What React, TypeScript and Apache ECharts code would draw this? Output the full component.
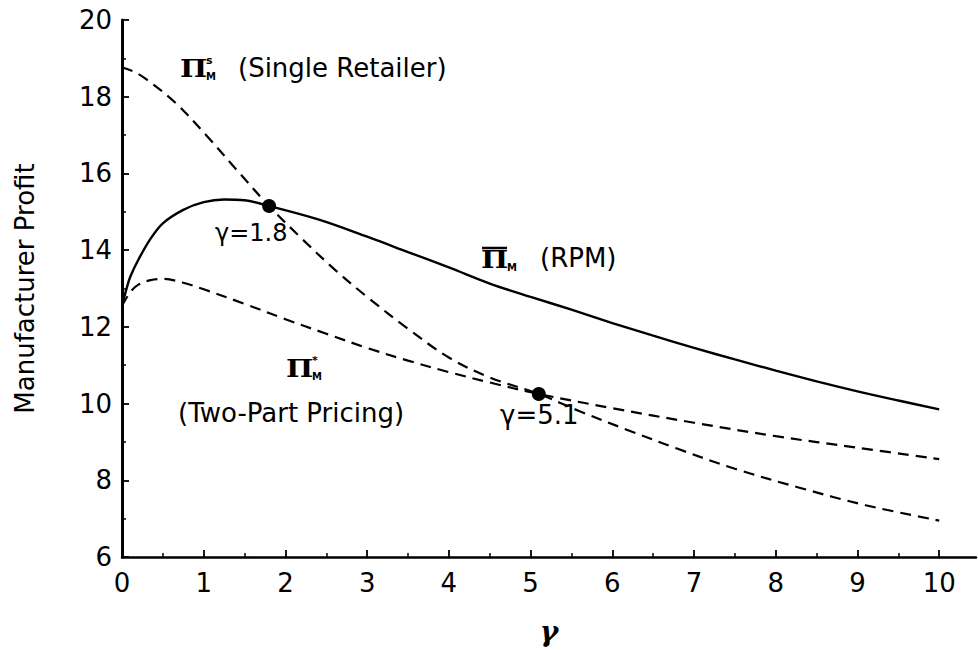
import React, { useEffect, useRef } from "react";
import * as echarts from "echarts";

// Single retailer (dashed, starts high)
const gammaSingle = [0, 0.15, 0.3, 0.65, 1.05, 1.4, 1.8, 2.2, 2.6, 3.0, 3.5, 4.0, 4.5, 5.1, 5.6, 6.2, 6.8, 7.5, 8.3, 9.1, 10];
const profitSingle = [18.77, 18.65, 18.45, 17.85, 16.95, 16.1, 15.15, 14.3, 13.5, 12.78, 11.95, 11.2, 10.68, 10.25, 9.8, 9.3, 8.82, 8.3, 7.8, 7.35, 6.95];

// RPM (solid)
const gammaRPM = [0, 0.05, 0.1, 0.2, 0.35, 0.5, 0.75, 1, 1.25, 1.5, 1.8, 2.4, 3, 3.5, 4, 4.5, 5, 5.5, 6, 6.5, 7, 7.5, 8, 8.5, 9, 9.5, 10];
const profitRPM = [12.55, 12.95, 13.3, 13.75, 14.3, 14.7, 15.05, 15.25, 15.32, 15.3, 15.15, 14.8, 14.35, 13.95, 13.55, 13.13, 12.78, 12.45, 12.1, 11.77, 11.45, 11.15, 10.86, 10.58, 10.32, 10.08, 9.85];

// Two-part pricing (dashed, lower)
const gammaTwoPart = [0, 0.1, 0.2, 0.35, 0.5, 0.75, 1, 1.5, 2, 2.5, 3, 3.5, 4, 4.5, 5.1, 6, 7, 8, 9, 10];
const profitTwoPart = [12.55, 12.9, 13.1, 13.22, 13.25, 13.15, 12.98, 12.6, 12.2, 11.82, 11.45, 11.12, 10.82, 10.55, 10.25, 9.88, 9.5, 9.15, 8.85, 8.55];

// Crossing points
const crossGamma = [1.8, 5.1];
const crossProfit = [15.15, 10.25];

// Axis ticks
const xTickValues = [0, 1, 2, 3, 4, 5, 6, 7, 8, 9, 10];
const xMinorTickValues = [0.5, 1.5, 2.5, 3.5, 4.5, 5.5, 6.5, 7.5, 8.5, 9.5];
const yMin = 6;
const yMax = 20;
const yStep = 2;
const xMin = 0;
const xMax = 10.45;

const pairs = (xs: number[], ys: number[]) => xs.map((x, i) => [x, ys[i]]);

const SANS = '"DejaVu Sans", sans-serif';
const SERIF = '"DejaVu Serif", serif';

function piLabel(x: number, y: number, sup: string | null, overline: boolean) {
  const els: any[] = [
    {
      type: "text",
      x,
      y,
      scaleX: 1.2,
      style: { text: "Π", font: `bold 24px ${SERIF}`, fill: "#000", align: "left", verticalAlign: "middle" },
    },
    {
      type: "text",
      x: x + 26,
      y: y + 8,
      style: { text: "M", font: `bold 10px ${SANS}`, fill: "#000", align: "left", verticalAlign: "middle" },
    },
  ];
  if (sup) {
    els.push({
      type: "text",
      x: x + 26,
      y: y - 8,
      style: { text: sup, font: `bold 11px ${SANS}`, fill: "#000", align: "left", verticalAlign: "middle" },
    });
  }
  if (overline) {
    els.push({
      type: "line",
      shape: { x1: x + 1, y1: y - 11, x2: x + 26, y2: y - 11 },
      style: { stroke: "#000", lineWidth: 2.5 },
    });
  }
  return els;
}

function txt(x: number, y: number, text: string, size = 26) {
  return {
    type: "text",
    x,
    y,
    style: { text, font: `${size}px ${SANS}`, fill: "#000", align: "left", verticalAlign: "middle" },
  };
}

export default function App() {
  const ref = useRef<HTMLDivElement>(null);
  useEffect(() => {
    if (!ref.current) return;
    const chart = echarts.init(ref.current, undefined, { renderer: "svg" });
    const dash = [11, 7];
    chart.setOption({
      animation: false,
      backgroundColor: "#fff",
      grid: { left: 122, right: 2, top: 20, bottom: 89, containLabel: false },
      xAxis: [
        {
          type: "value",
          min: xMin,
          max: xMax,
          name: "γ",
          nameLocation: "middle",
          nameGap: 60,
          nameTextStyle: { fontFamily: SERIF, fontStyle: "italic", fontWeight: "bold", fontSize: 28, color: "#000" },
          axisLine: { show: true, lineStyle: { color: "#000", width: 2.5 } },
          axisTick: { show: true, inside: true, length: 7, customValues: xTickValues, lineStyle: { color: "#000", width: 1.8 } },
          axisLabel: { customValues: xTickValues, fontSize: 26, fontFamily: SANS, color: "#000", margin: 13 },
          splitLine: { show: false },
        },
        {
          type: "value",
          min: xMin,
          max: xMax,
          position: "bottom",
          axisLine: { show: false },
          axisTick: { show: true, inside: true, length: 4, customValues: xMinorTickValues, lineStyle: { color: "#000", width: 1.5 } },
          axisLabel: { show: false },
          splitLine: { show: false },
        },
      ],
      yAxis: {
        type: "value",
        min: yMin,
        max: yMax,
        interval: yStep,
        name: "Manufacturer Profit",
        nameLocation: "middle",
        nameGap: 84,
        nameTextStyle: { fontFamily: SANS, fontSize: 26, color: "#000" },
        axisLine: { show: true, lineStyle: { color: "#000", width: 3 } },
        axisTick: { show: true, inside: true, length: 7, lineStyle: { color: "#000", width: 1.8 } },
        minorTick: { show: true, splitNumber: 2, length: 4, lineStyle: { color: "#000", width: 1.5 } },
        axisLabel: { fontSize: 26, fontFamily: SANS, color: "#000", margin: 10 },
        splitLine: { show: false },
        minorSplitLine: { show: false },
      },
      series: [
        {
          type: "line",
          name: "RPM",
          data: pairs(gammaRPM, profitRPM),
          showSymbol: false,
          smooth: 0.35,
          lineStyle: { color: "#000", width: 2.4, type: "solid" },
        },
        {
          type: "line",
          name: "Single Retailer",
          data: pairs(gammaSingle, profitSingle),
          showSymbol: false,
          smooth: 0.35,
          lineStyle: { color: "#000", width: 2.2, type: dash },
        },
        {
          type: "line",
          name: "Two-Part Pricing",
          data: pairs(gammaTwoPart, profitTwoPart),
          showSymbol: false,
          smooth: 0.35,
          lineStyle: { color: "#000", width: 2.2, type: dash },
        },
        {
          type: "scatter",
          data: pairs(crossGamma, crossProfit),
          symbolSize: 14,
          itemStyle: { color: "#000", opacity: 1 },
          z: 5,
        },
      ],
      graphic: [
        ...piLabel(180, 68, "s", false),
        txt(238, 68, "(Single Retailer)"),
        txt(215, 233, "γ=1.8", 24),
        ...piLabel(481, 259, null, true),
        txt(540, 258, "(RPM)"),
        ...piLabel(286, 368, "*", false),
        txt(178, 413, "(Two-Part Pricing)"),
        txt(500, 415, "γ=5.1"),
      ],
    });
    return () => chart.dispose();
  }, []);
  return (
    <div
      ref={ref}
      style={{ position: "fixed", left: 0, top: 0, width: 978, height: 650, background: "#fff" }}
    />
  );
}
